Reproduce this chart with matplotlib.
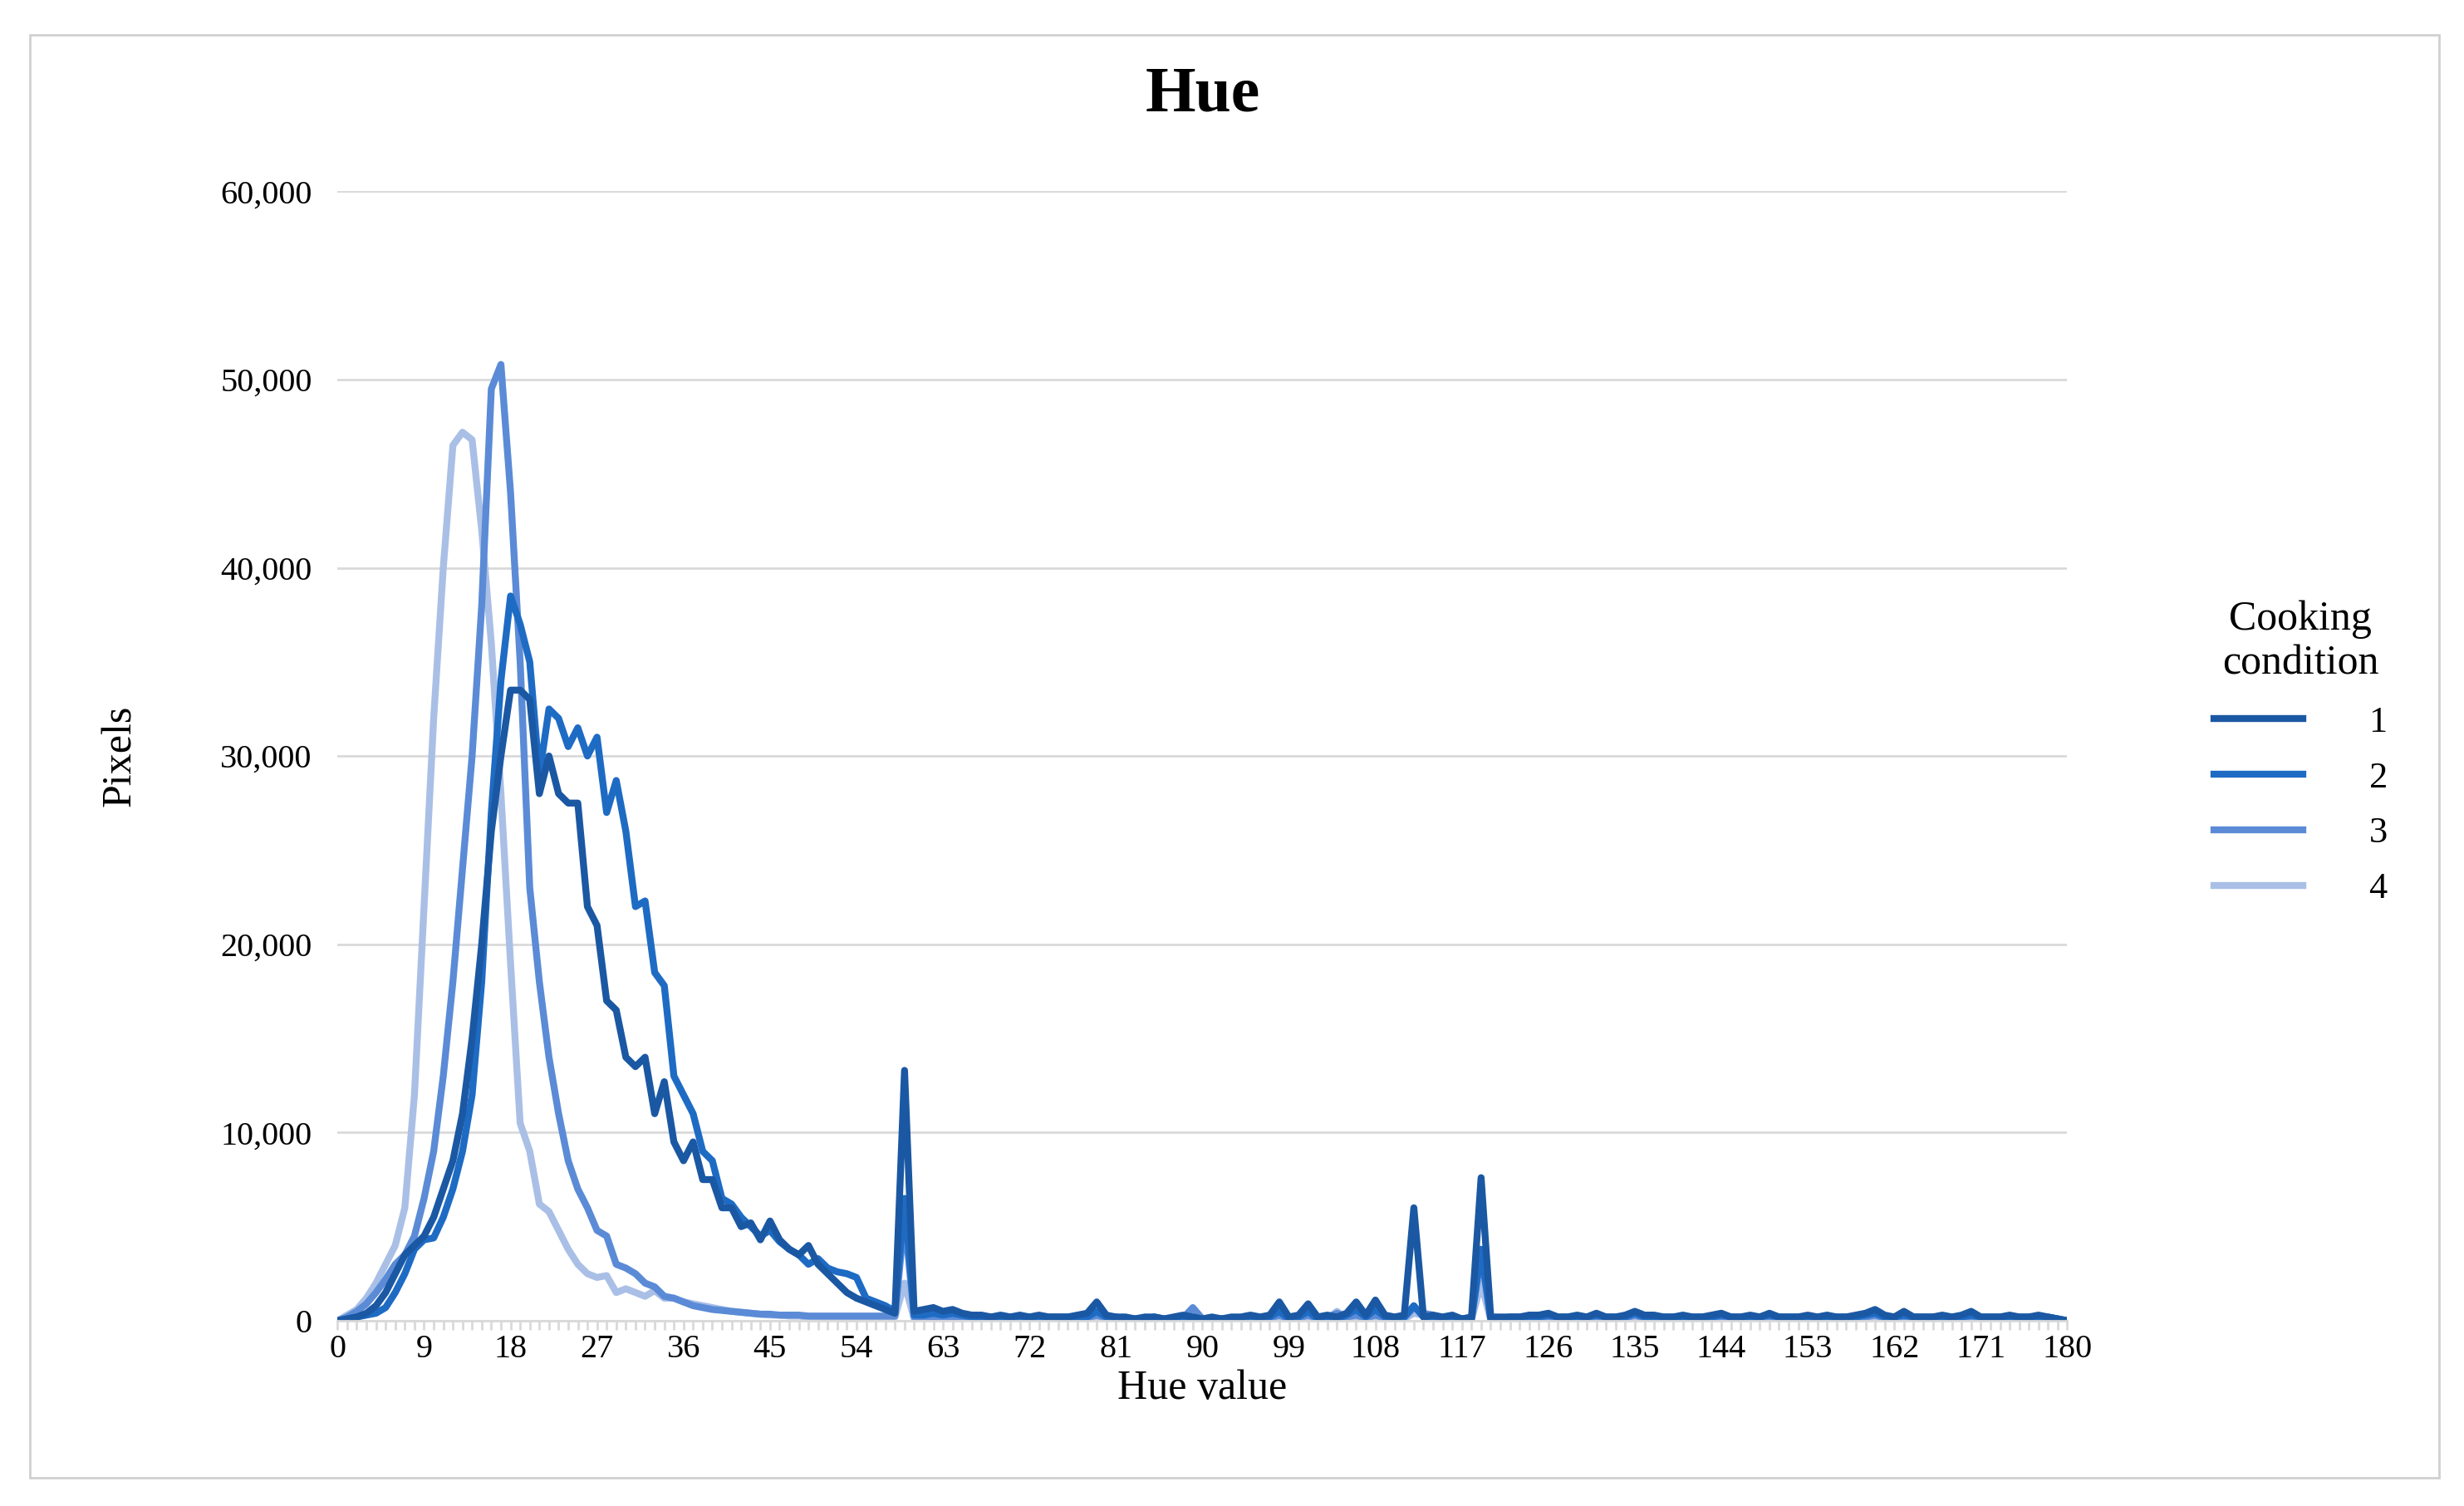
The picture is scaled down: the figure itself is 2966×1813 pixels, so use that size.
import matplotlib.pyplot as plt
from matplotlib.patches import Rectangle
from matplotlib.ticker import FuncFormatter, MultipleLocator

plt.rcParams['font.family'] = ['Liberation Serif', 'DejaVu Serif']

hue = list(range(181))

head1 = [0, 100, 200, 400, 800, 1500, 2500, 3500, 4000, 4500, 5500, 7000, 8500, 11000, 15000, 20000,
         26000, 30000, 33500, 33500, 33000, 28000, 30000, 28000, 27500, 27500, 22000, 21000, 17000, 16500,
         14000, 13500, 14000, 11000, 12700, 9500, 8500, 9500, 7500, 7500, 6000, 6000, 5000, 5200, 4300,
         5300, 4300, 3800, 3500, 4000, 3000, 2500, 2000, 1500, 1200, 1000, 800, 600, 400, 13300, 500]
head2 = [0, 100, 200, 300, 400, 700, 1500, 2500, 3800, 4300, 4400, 5500, 7000, 9000, 12000, 18000,
         27000, 34000, 38500, 37000, 35000, 29000, 32500, 32000, 30500, 31500, 30000, 31000, 27000, 28700,
         26000, 22000, 22300, 18500, 17800, 13000, 12000, 11000, 9000, 8500, 6500, 6200, 5500, 5000, 4500,
         4800, 4200, 3800, 3500, 3000, 3300, 2800, 2600, 2500, 2300, 1200, 1000, 800, 500, 6500, 300]
head3 = [0, 200, 500, 900, 1500, 2200, 3000, 3500, 4500, 6500, 9000, 13000, 18000, 24000, 30000, 38000,
         49500, 50800, 44000, 35000, 23000, 18000, 14000, 11000, 8500, 7000, 6000, 4800, 4500, 3000,
         2800, 2500, 2000, 1800, 1300, 1200, 1000, 800, 700, 600, 550, 500, 450, 400, 350,
         350, 300, 300, 300, 250, 250, 250, 250, 250, 250, 250, 250, 250, 250, 5500, 200]
head4 = [0, 300, 600, 1200, 2000, 3000, 4000, 6000, 12000, 22000, 32000, 40000, 46500, 47200, 46800, 42000,
         36000, 28000, 19000, 10500, 9000, 6200, 5800, 4800, 3800, 3000, 2500, 2300, 2400, 1500,
         1700, 1500, 1300, 1600, 1200, 1200, 1000, 900, 800, 700, 600, 500, 450, 400, 350,
         300, 300, 250, 250, 200, 200, 200, 200, 200, 200, 200, 200, 200, 200, 2000, 100]

tail1 = [600, 700, 500, 600, 400, 300, 300, 200, 300, 200, 300, 200, 300, 200, 200, 200, 300, 400, 1000, 300,
         200, 200, 100, 200, 200, 100, 200, 300, 200, 100, 200, 100, 200, 200, 300, 200, 300, 1000, 200, 300,
         900, 200, 300, 200, 400, 1000, 300, 1100, 300, 200, 300, 6000, 200, 300, 200, 300, 100, 200, 7600, 200,
         200, 200, 200, 300, 300, 400, 200, 200, 300, 200, 400, 200, 200, 300, 500, 300, 300, 200, 200, 300,
         200, 200, 300, 400, 200, 200, 300, 200, 400, 200, 200, 200, 300, 200, 300, 200, 200, 300, 400, 600,
         300, 200, 500, 200, 200, 200, 300, 200, 300, 500, 200, 200, 200, 300, 200, 200, 300, 200, 100, 0]
tail2 = [300, 400, 300, 400, 300, 200, 200, 200, 200, 200, 200, 200, 200, 200, 200, 200, 200, 200, 500, 200,
         200, 100, 100, 100, 200, 100, 100, 200, 100, 100, 100, 100, 100, 100, 200, 100, 200, 500, 100, 200,
         500, 100, 200, 100, 300, 600, 200, 600, 200, 100, 200, 800, 200, 200, 100, 200, 100, 100, 3800, 100,
         100, 200, 200, 200, 200, 300, 200, 200, 200, 200, 300, 200, 200, 200, 400, 200, 200, 200, 200, 200,
         200, 200, 200, 300, 200, 200, 200, 200, 300, 200, 200, 200, 200, 200, 200, 200, 200, 200, 300, 400,
         200, 200, 300, 200, 200, 200, 200, 200, 200, 300, 200, 200, 200, 200, 200, 200, 200, 200, 100, 0]
tail3 = [200, 200, 200, 200, 200, 200, 150, 150, 150, 150, 150, 150, 150, 150, 150, 150, 150, 150, 300, 150,
         150, 100, 100, 100, 100, 100, 100, 150, 700, 100, 100, 100, 100, 100, 150, 100, 150, 300, 100, 150,
         300, 100, 150, 400, 200, 300, 150, 300, 150, 100, 150, 700, 400, 300, 100, 150, 100, 100, 3500, 100,
         100, 150, 150, 150, 150, 200, 150, 150, 150, 150, 200, 150, 150, 150, 300, 150, 150, 150, 150, 150,
         150, 150, 150, 200, 150, 150, 150, 150, 200, 150, 150, 150, 150, 150, 150, 150, 150, 150, 200, 300,
         150, 150, 200, 150, 150, 150, 150, 150, 150, 200, 150, 150, 150, 150, 150, 150, 150, 150, 100, 0]
tail4 = [100, 100, 100, 100, 100, 100, 100, 100, 100, 100, 100, 100, 100, 100, 100, 100, 100, 100, 200, 100,
         100, 50, 50, 50, 50, 50, 50, 100, 300, 50, 50, 50, 50, 50, 100, 50, 100, 200, 50, 100,
         200, 50, 100, 500, 100, 200, 100, 200, 100, 50, 100, 400, 300, 200, 50, 100, 50, 50, 2000, 50,
         50, 100, 100, 100, 100, 100, 100, 100, 100, 100, 100, 100, 100, 100, 200, 100, 100, 100, 100, 100,
         100, 100, 100, 100, 100, 100, 100, 100, 100, 100, 100, 100, 100, 100, 100, 100, 100, 100, 100, 200,
         100, 100, 100, 100, 100, 100, 100, 100, 100, 100, 100, 100, 100, 100, 100, 100, 100, 100, 50, 0]

series = {
    '1': head1 + tail1,
    '2': head2 + tail2,
    '3': head3 + tail3,
    '4': head4 + tail4,
}
colors = ['#1b58a3', '#1e6bc4', '#5b8bd6', '#a9bfe6']

fig = plt.figure(figsize=(29.66, 18.13), dpi=100)
fig.patches.append(Rectangle((0.012, 0.019), 0.978, 0.958, transform=fig.transFigure,
                             fill=False, edgecolor='#d0d0d0', linewidth=2))
ax = fig.add_axes([0.137, 0.123, 0.702, 0.75])

# draw lightest first so darker lines sit on top
for (name, vals), c in reversed(list(zip(series.items(), colors))):
    ax.plot(hue, vals, color=c, linewidth=6, label=name)

ax.set_xlim(0, 180)
ax.set_ylim(0, 60000)
ax.xaxis.set_major_locator(MultipleLocator(9))
ax.xaxis.set_minor_locator(MultipleLocator(1))
ax.yaxis.set_major_locator(MultipleLocator(10000))
ax.yaxis.set_major_formatter(FuncFormatter(lambda v, p: f'{int(v):,}'))
ax.grid(axis='y', color='#d9d9d9', linewidth=2)
ax.set_axisbelow(True)
for s in ['top', 'right', 'left']:
    ax.spines[s].set_visible(False)
ax.spines['bottom'].set_color('#d9d9d9')
ax.spines['bottom'].set_linewidth(2)
ax.tick_params(axis='y', length=0, labelsize=29, pad=22)
ax.tick_params(axis='x', which='major', length=8, color='#d9d9d9', width=2, labelsize=29)
ax.tick_params(axis='x', which='minor', length=8, color='#d9d9d9', width=2)

ax.set_title('Hue', fontsize=56, fontweight='bold', pad=70)
ax.set_xlabel('Hue value', fontsize=36, labelpad=4)
ax.set_ylabel('Pixels', fontsize=36, labelpad=70)

handles, labels = ax.get_legend_handles_labels()
leg = fig.legend(handles[::-1], labels[::-1], title='Cooking\ncondition', loc='center left',
                 bbox_to_anchor=(0.885, 0.5), frameon=False, fontsize=32, title_fontsize=36,
                 handlelength=2.4, labelspacing=0.6, handletextpad=1.8)
leg.get_title().set_multialignment('center')

fig.savefig('out.png', dpi=100)
